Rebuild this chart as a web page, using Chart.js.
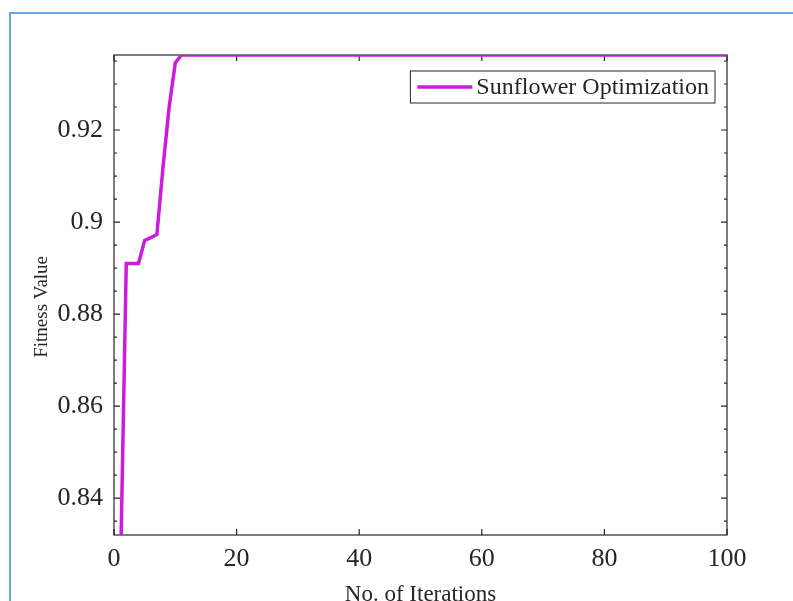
<!DOCTYPE html>
<html>
<head>
<meta charset="utf-8">
<title>Fitness Value</title>
<script src="https://cdn.jsdelivr.net/npm/chart.js@4.4.1/dist/chart.umd.min.js"></script>
<style>
  html, body { margin: 0; padding: 0; background: #fff; }
  #wrap { position: relative; width: 793px; height: 601px; overflow: hidden; }
  #frame { position: absolute; left: 9px; top: 12px; width: 800px; height: 600px;
           border-left: 2px solid #6aa5dc; border-top: 2px solid #6aa5dc; }
  #chart { position: absolute; left: 0; top: 0; }
</style>
</head>
<body>
<div id="wrap">
  <div id="frame"></div>
  <canvas id="chart" width="793" height="601"></canvas>
</div>
<script>
// --- data ---
const iterations = [
  1, 2, 3, 4, 5, 6, 7, 8, 9, 10,
  11, 12, 13, 14, 15, 16, 17, 18, 19, 20,
  21, 22, 23, 24, 25, 26, 27, 28, 29, 30,
  31, 32, 33, 34, 35, 36, 37, 38, 39, 40,
  41, 42, 43, 44, 45, 46, 47, 48, 49, 50,
  51, 52, 53, 54, 55, 56, 57, 58, 59, 60,
  61, 62, 63, 64, 65, 66, 67, 68, 69, 70,
  71, 72, 73, 74, 75, 76, 77, 78, 79, 80,
  81, 82, 83, 84, 85, 86, 87, 88, 89, 90,
  91, 92, 93, 94, 95, 96, 97, 98, 99, 100
];
const fitness = [
  0.820, 0.891, 0.891, 0.891, 0.896, 0.8966, 0.8973, 0.912, 0.925, 0.9346,
  0.9363, 0.9363, 0.9363, 0.9363, 0.9363, 0.9363, 0.9363, 0.9363, 0.9363, 0.9363,
  0.9363, 0.9363, 0.9363, 0.9363, 0.9363, 0.9363, 0.9363, 0.9363, 0.9363, 0.9363,
  0.9363, 0.9363, 0.9363, 0.9363, 0.9363, 0.9363, 0.9363, 0.9363, 0.9363, 0.9363,
  0.9363, 0.9363, 0.9363, 0.9363, 0.9363, 0.9363, 0.9363, 0.9363, 0.9363, 0.9363,
  0.9363, 0.9363, 0.9363, 0.9363, 0.9363, 0.9363, 0.9363, 0.9363, 0.9363, 0.9363,
  0.9363, 0.9363, 0.9363, 0.9363, 0.9363, 0.9363, 0.9363, 0.9363, 0.9363, 0.9363,
  0.9363, 0.9363, 0.9363, 0.9363, 0.9363, 0.9363, 0.9363, 0.9363, 0.9363, 0.9363,
  0.9363, 0.9363, 0.9363, 0.9363, 0.9363, 0.9363, 0.9363, 0.9363, 0.9363, 0.9363,
  0.9363, 0.9363, 0.9363, 0.9363, 0.9363, 0.9363, 0.9363, 0.9363, 0.9363, 0.9363
];
const xTicks = [0, 20, 40, 60, 80, 100];
const yTicks = [0.84, 0.86, 0.88, 0.9, 0.92];
const yMinorTicks = [0.835, 0.845, 0.85, 0.855, 0.865, 0.87, 0.875, 0.885, 0.89,
                     0.895, 0.905, 0.91, 0.915, 0.925, 0.93, 0.935];

const SERIF = '"Liberation Serif", "Times New Roman", serif';
const AXIS = '#262626';
const LINE = '#cc1cdb';

// MATLAB-style box with inward ticks on all four sides
const boxTicks = {
  id: 'boxTicks',
  beforeDatasetsDraw(chart) {
    const { ctx, chartArea: a, scales: { x, y } } = chart;
    ctx.save();
    ctx.strokeStyle = AXIS;
    ctx.lineWidth = 1.2;
    ctx.strokeRect(a.left, a.top, a.right - a.left, a.bottom - a.top);
    ctx.beginPath();
    xTicks.forEach(v => {
      const px = x.getPixelForValue(v);
      ctx.moveTo(px, a.bottom); ctx.lineTo(px, a.bottom - 6);
      ctx.moveTo(px, a.top); ctx.lineTo(px, a.top + 6);
    });
    yTicks.forEach(v => {
      const py = y.getPixelForValue(v);
      ctx.moveTo(a.left, py); ctx.lineTo(a.left + 6, py);
      ctx.moveTo(a.right, py); ctx.lineTo(a.right - 6, py);
    });
    yMinorTicks.forEach(v => {
      const py = y.getPixelForValue(v);
      ctx.moveTo(a.left, py); ctx.lineTo(a.left + 3, py);
      ctx.moveTo(a.right, py); ctx.lineTo(a.right - 3, py);
    });
    ctx.stroke();
    ctx.restore();
  }
};

// boxed legend in the upper right corner of the axes
const boxLegend = {
  id: 'boxLegend',
  afterDatasetsDraw(chart) {
    const { ctx, chartArea: a } = chart;
    const ds = chart.data.datasets[0];
    ctx.save();
    ctx.font = '24px ' + SERIF;
    const tw = ctx.measureText(ds.label).width;
    const right = a.right - 12, top = a.top + 16, h = 32;
    const left = right - (7 + 55 + 4 + tw + 6);
    ctx.fillStyle = '#fff';
    ctx.fillRect(left, top, right - left, h);
    ctx.strokeStyle = AXIS;
    ctx.lineWidth = 1;
    ctx.strokeRect(left, top, right - left, h);
    const cy = top + h / 2;
    ctx.strokeStyle = ds.borderColor;
    ctx.lineWidth = ds.borderWidth;
    ctx.beginPath();
    ctx.moveTo(left + 7, cy); ctx.lineTo(left + 62, cy);
    ctx.stroke();
    ctx.fillStyle = AXIS;
    ctx.textBaseline = 'middle';
    ctx.fillText(ds.label, left + 66, cy + 1);
    ctx.restore();
  }
};

new Chart(document.getElementById('chart'), {
  type: 'line',
  data: {
    datasets: [{
      label: 'Sunflower Optimization',
      data: iterations.map((it, i) => ({ x: it, y: fitness[i] })),
      borderColor: LINE,
      borderWidth: 3.5,
      pointRadius: 0,
      tension: 0,
      fill: false
    }]
  },
  options: {
    responsive: false,
    animation: false,
    layout: { padding: { left: 0, top: 55, right: 66, bottom: 0 } },
    scales: {
      x: {
        type: 'linear',
        min: 0,
        max: 100,
        afterFit: s => { s.height = 66; },
        afterBuildTicks: s => { s.ticks = xTicks.map(v => ({ value: v })); },
        grid: { display: false, drawTicks: false },
        border: { display: false },
        ticks: {
          color: AXIS, font: { family: SERIF, size: 26 }, padding: 9,
          maxRotation: 0, autoSkip: false, callback: v => String(v)
        },
        title: {
          display: true, text: 'No. of Iterations', color: AXIS,
          font: { family: SERIF, size: 23 }, padding: { top: 0, bottom: -8 }
        }
      },
      y: {
        type: 'linear',
        min: 0.832,
        max: 0.9363,
        afterFit: s => { s.width = 114; },
        afterBuildTicks: s => { s.ticks = yTicks.map(v => ({ value: v })); },
        grid: { display: false, drawTicks: false },
        border: { display: false },
        ticks: {
          color: AXIS, font: { family: SERIF, size: 26 }, padding: 11,
          autoSkip: false, callback: v => String(v)
        },
        title: {
          display: true, text: 'Fitness Value     ', color: AXIS,
          font: { family: SERIF, size: 19 }, padding: { top: 31, bottom: 0 }
        }
      }
    },
    plugins: {
      legend: { display: false },
      tooltip: { enabled: false }
    }
  },
  plugins: [boxTicks, boxLegend]
});
</script>
</body>
</html>
